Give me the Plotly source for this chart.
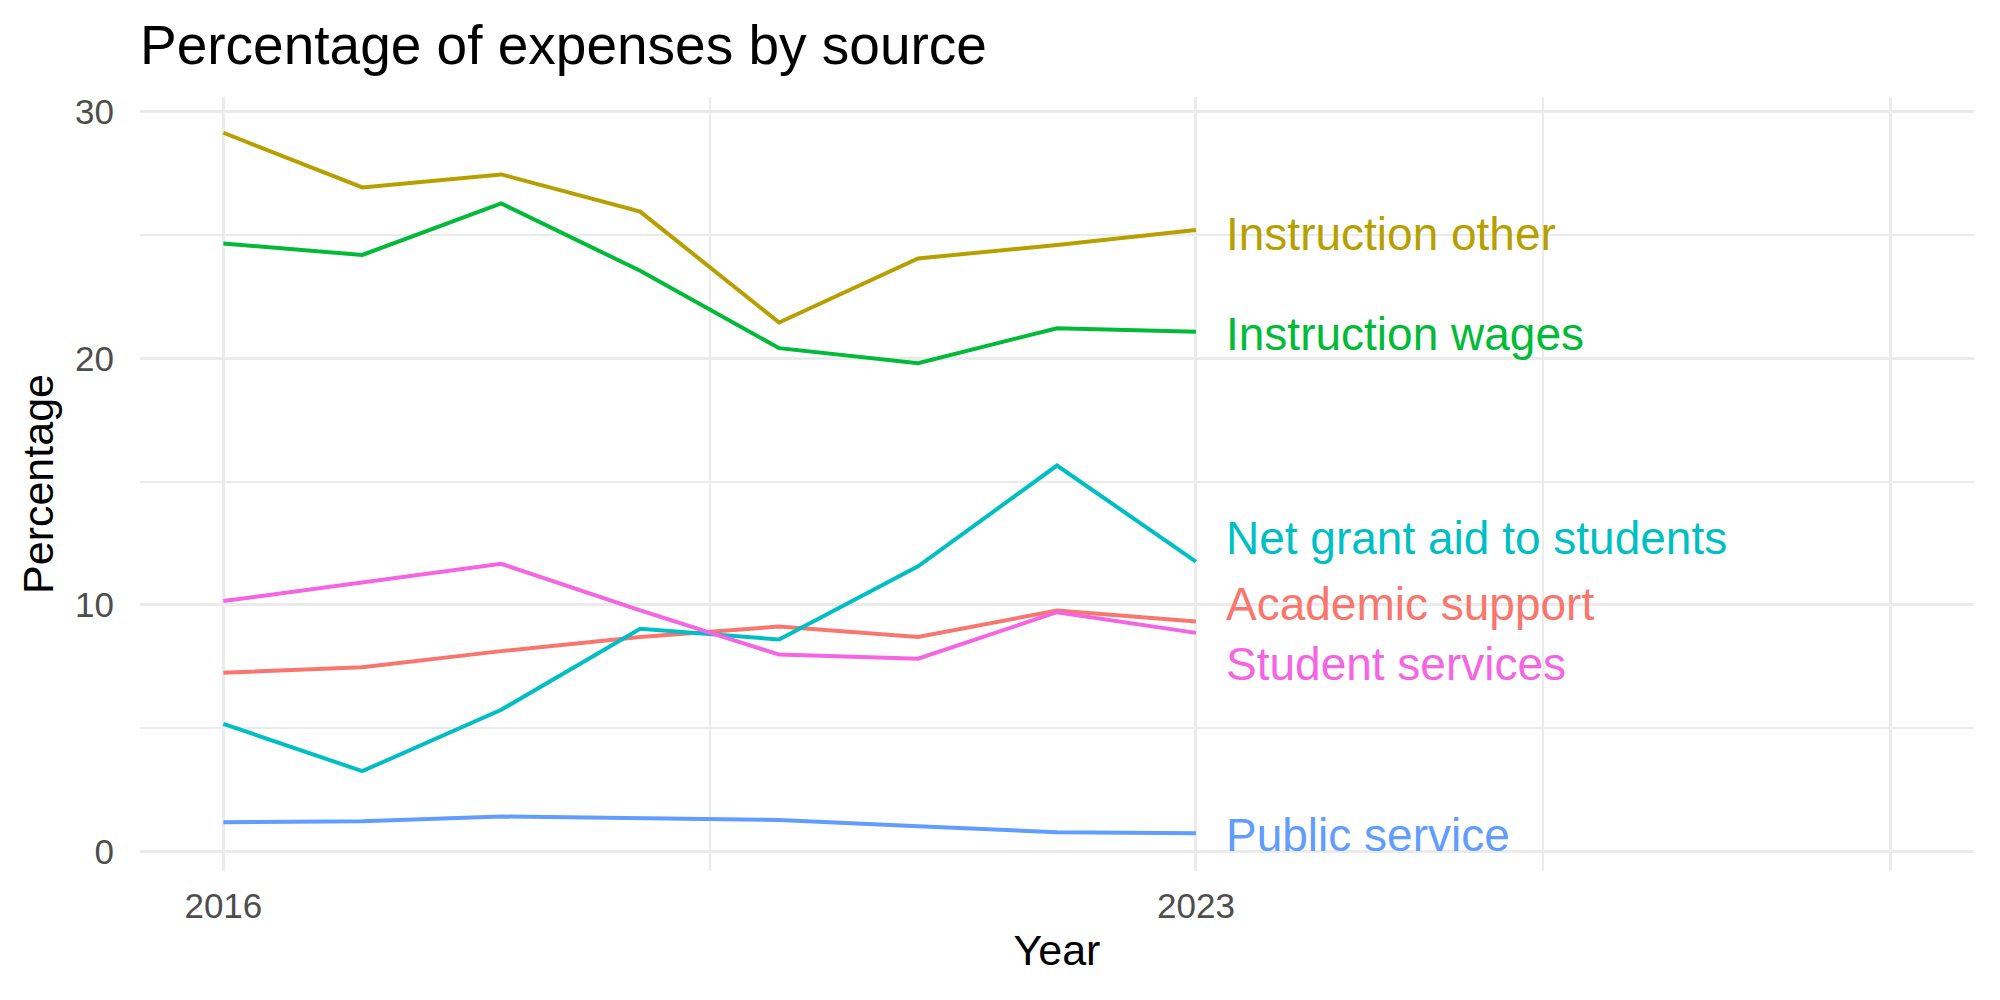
import plotly.graph_objects as go

years = [2016, 2017, 2018, 2019, 2020, 2021, 2022, 2023]

series_names = ["Academic support", "Instruction other", "Instruction wages",
                "Net grant aid to students", "Public service", "Student services"]

academic_support = [7.24, 7.47, 8.12, 8.69, 9.12, 8.69, 9.77, 9.32]
instruction_other = [29.15, 26.93, 27.46, 25.95, 21.45, 24.05, 24.60, 25.20]
instruction_wages = [24.66, 24.19, 26.28, 23.55, 20.41, 19.80, 21.22, 21.08]
net_grant_aid = [5.17, 3.25, 5.74, 9.03, 8.59, 11.56, 15.65, 11.75]
public_service = [1.18, 1.22, 1.41, 1.34, 1.27, 1.02, 0.77, 0.73]
student_services = [10.15, 10.92, 11.66, 9.77, 7.98, 7.81, 9.70, 8.86]

series_values = [academic_support, instruction_other, instruction_wages,
                 net_grant_aid, public_service, student_services]

colors = ["#F8766D", "#B79F00", "#00BA38", "#00BFC4", "#619CFF", "#F564E3"]

# label placement (repelled positions at the end of each line)
label_x = 2023.2
label_y = [10.05, 25.05, 21.0, 12.7, 0.67, 7.6]

x_tick_vals = [2016, 2023, 2028]
x_tick_text = ["2016", "2023", ""]
x_minor = [2019.5, 2025.5]
y_tick_vals = [0, 10, 20, 30]
y_minor = [5, 15, 25]

FONT = "Liberation Sans, Arial, sans-serif"
GRID = "#EBEBEB"

fig = go.Figure()
for name, vals, col in zip(series_names, series_values, colors):
    fig.add_trace(go.Scatter(x=years, y=vals, mode="lines", name=name,
                             line=dict(color=col, width=4), showlegend=False))

for name, ly, col in zip(series_names, label_y, colors):
    fig.add_annotation(x=label_x, y=ly, text=name, showarrow=False,
                       xanchor="left", yanchor="middle",
                       font=dict(family=FONT, size=46, color=col))

fig.update_layout(
    width=2000, height=1000,
    paper_bgcolor="white", plot_bgcolor="white",
    margin=dict(l=140, r=26, t=97, b=129, autoexpand=False),
    title=dict(text="Percentage of expenses by source", x=0, xref="paper",
               xanchor="left", y=1 - 45 / 1000, yref="container", yanchor="middle",
               font=dict(family=FONT, size=55, color="black")),
    font=dict(family=FONT),
)

fig.update_xaxes(
    range=[2015.4, 2028.6], tickmode="array", tickvals=x_tick_vals, ticktext=x_tick_text,
    showgrid=True, gridcolor=GRID, gridwidth=3.2, zeroline=False, showline=False,
    ticks="outside", ticklen=4, tickcolor="rgba(0,0,0,0)",
    tickfont=dict(family=FONT, size=35, color="#4D4D4D"),
    minor=dict(tickmode="array", tickvals=x_minor, showgrid=True, gridcolor=GRID, gridwidth=1.6, ticks=""),
    title=dict(text="Year", font=dict(family=FONT, size=43, color="black"), standoff=10),
    automargin=False,
)
fig.update_yaxes(
    range=[-0.8, 30.6], tickmode="array", tickvals=y_tick_vals,
    showgrid=True, gridcolor=GRID, gridwidth=3.2, zeroline=False, showline=False,
    ticks="outside", ticklen=18, tickcolor="rgba(0,0,0,0)",
    tickfont=dict(family=FONT, size=35, color="#4D4D4D"),
    minor=dict(tickmode="array", tickvals=y_minor, showgrid=True, gridcolor=GRID, gridwidth=1.6, ticks=""),
    title=dict(text="Percentage", font=dict(family=FONT, size=43, color="black"), standoff=8),
    automargin=False,
)

fig.write_html("out.html")
